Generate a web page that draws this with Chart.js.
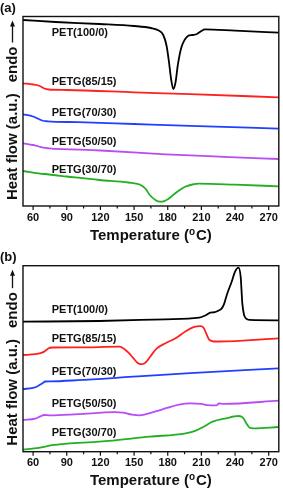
<!DOCTYPE html>
<html>
<head>
<meta charset="utf-8">
<script src="https://cdn.jsdelivr.net/npm/chart.js@4.4.0/dist/chart.umd.min.js"></script>
<style>
  html, body { margin: 0; padding: 0; background: #fff; }
  canvas { display: block; }
</style>
</head>
<body>
<canvas id="chartA" width="283" height="245"></canvas>
<canvas id="chartB" width="283" height="245"></canvas>
<script>
// axis ticks (temperature, °C)
const tempTicks = [60, 90, 120, 150, 180, 210, 240, 270];
const tempMinor = [75, 105, 135, 165, 195, 225, 255];
const sampleNames = ["PET(100/0)", "PETG(85/15)", "PETG(70/30)", "PETG(50/50)", "PETG(30/70)"];
const lineColors = ["#000000", "#ff2020", "#2040ff", "#b94cf5", "#22b022"];

// (a) curves - temperature / heat flow (a.u.)
const aPetT = [51, 80, 119, 150, 165, 172, 176, 179, 181, 183, 185, 187, 189, 192, 195, 198, 202, 206, 210, 213, 240, 279];
const aPetY = [186, 184, 182, 180, 178, 175.5, 171, 160, 145, 127, 117, 124, 141, 158, 166, 170, 171, 172, 175, 176.7, 175.3, 173.3];
const a85T = [51, 60, 66, 70, 74, 90, 150, 200, 279];
const a85Y = [122.7, 121.5, 120, 117.5, 116.5, 116, 113.7, 111.8, 108.7];
const a70T = [51, 60, 64, 68, 73, 100, 150, 200, 279];
const a70Y = [91.7, 89.5, 87.5, 85.5, 84.7, 83.8, 82, 80.2, 77.3];
const a50T = [51, 60, 65, 69, 74, 120, 178, 230, 279];
const a50Y = [62.7, 61, 59.5, 58.3, 57.7, 55.5, 51.7, 49.2, 47];
const a30T = [51, 70, 90, 119, 145, 155, 160, 164, 169, 173, 176, 181, 187, 192, 196, 202, 208, 240, 279];
const a30Y = [35, 32, 29.5, 26, 23.5, 21.5, 17.5, 11, 6, 4.3, 4.5, 7.5, 13, 17, 19.5, 21.5, 22.3, 21.3, 19.7];
const aLabelY = [173, 124, 93, 64, 36];

// (b) curves
const bPetT = [51, 119, 178, 208, 214, 218, 222, 225, 228, 230, 233, 237, 240, 243, 245, 246.5, 248, 250, 253, 279];
const bPetY = [130, 130.7, 132.4, 134, 136.5, 139, 139.5, 141, 143, 147, 158, 170, 180, 184, 175, 148, 137, 133, 131.8, 131.4];
const b85T = [51, 62, 68, 71, 74, 77, 100, 137, 141, 145, 149, 153, 156, 158, 161, 165, 170, 178, 187, 196, 203, 209, 212, 214, 217, 221, 226, 279];
const b85Y = [96.7, 97.5, 99, 101, 103.5, 104.2, 104.3, 105, 103, 99, 94, 89, 87.5, 87.7, 90, 96, 103, 108.5, 113.5, 120.5, 124.5, 125.5, 124, 119, 112, 110.2, 110.2, 113.4];
const b70T = [51, 60, 64, 68, 71, 75, 100, 149, 200, 279];
const b70Y = [62.7, 63.8, 65.5, 68.3, 70.2, 70.3, 71.5, 75, 78.5, 83.4];
const b50T = [51, 62, 66, 70, 75, 100, 133, 140, 148, 155, 160, 170, 180, 190, 200, 210, 216, 222, 224, 225.5, 230, 279];
const b50Y = [31.7, 33, 35, 36.7, 36.3, 37.5, 39.5, 39, 37, 36.3, 37.3, 40.5, 44, 47, 48.3, 47.8, 46.5, 46.3, 46.5, 48.2, 47.8, 51];
const b30T = [51, 65, 77, 90, 119, 164, 196, 205, 212, 220, 232, 243, 247, 250, 253, 256, 279];
const b30Y = [2, 3.8, 6.5, 8, 10, 15, 18.4, 21, 25, 30, 33.4, 35.7, 34, 28.5, 24, 23.4, 24.7];
const bLabelY = [141.7, 112.7, 80, 47.4, 19];

const labelT = 76.6;
const FONT = '"Liberation Sans", Arial, sans-serif';

function toPoints(xs, ys) {
  return xs.map((t, i) => ({ x: t, y: ys[i] }));
}

const decor = {
  id: "decor",
  afterDatasetsDraw(chart, args, opts) {
    const { ctx, chartArea: ca, scales: { x, y } } = chart;
    ctx.save();
    ctx.strokeStyle = "#111";
    ctx.fillStyle = "#111";

    // frame
    ctx.lineWidth = 1.4;
    ctx.strokeRect(ca.left, ca.top, ca.right - ca.left, ca.bottom - ca.top);

    // outward tick marks
    ctx.lineWidth = 1.2;
    ctx.beginPath();
    tempTicks.forEach(t => {
      const px = x.getPixelForValue(t);
      ctx.moveTo(px, ca.bottom); ctx.lineTo(px, ca.bottom + 4);
    });
    tempMinor.forEach(t => {
      const px = x.getPixelForValue(t);
      ctx.moveTo(px, ca.bottom); ctx.lineTo(px, ca.bottom + 2.5);
    });
    ctx.stroke();

    // sample labels
    ctx.font = "bold 11px " + FONT;
    ctx.textAlign = "left";
    ctx.textBaseline = "middle";
    opts.labelY.forEach((v, i) => {
      ctx.fillText(sampleNames[i], x.getPixelForValue(labelT), y.getPixelForValue(v));
    });

    // panel tag
    ctx.font = "bold 13px " + FONT;
    ctx.fillText(opts.tag, 0, opts.tagY);

    // x title with superscript o
    const big = "bold 15px " + FONT, small = "bold 10px " + FONT;
    ctx.font = big;
    const w1 = ctx.measureText("Temperature (").width;
    const w3 = ctx.measureText("C)").width;
    ctx.font = small;
    const w2 = ctx.measureText("o").width + 1;
    let sx = (ca.left + ca.right) / 2 - (w1 + w2 + w3) / 2;
    const ty = opts.titleY;
    ctx.textBaseline = "alphabetic";
    ctx.font = big;
    ctx.fillText("Temperature (", sx, ty);
    ctx.font = small;
    ctx.fillText("o", sx + w1, ty - 5);
    ctx.font = big;
    ctx.fillText("C)", sx + w1 + w2, ty);

    // y title: Heat flow (a.u.)  endo --->
    ctx.translate(12.5, ca.bottom - 6);
    ctx.rotate(-Math.PI / 2);
    ctx.font = big;
    ctx.textBaseline = "middle";
    ctx.fillText("Heat flow (a.u.)", 0, 0);
    let p = ctx.measureText("Heat flow (a.u.)").width + 11;
    ctx.fillText("endo", p, 0);
    p += ctx.measureText("endo").width + 4;
    const tip = ca.bottom - 6 - (ca.top + 4);
    ctx.lineWidth = 1.3;
    ctx.beginPath();
    ctx.moveTo(p, 0); ctx.lineTo(tip - 4, 0);
    ctx.stroke();
    ctx.beginPath();
    ctx.moveTo(tip, 0); ctx.lineTo(tip - 6, -2.5); ctx.lineTo(tip - 6, 2.5);
    ctx.closePath(); ctx.fill();
    ctx.restore();
  }
};

function makeChart(id, series, yMax, padTop, axisH, plugOpts) {
  const ctx = document.getElementById(id).getContext("2d");
  return new Chart(ctx, {
    type: "line",
    data: {
      datasets: series.map((s, i) => ({
        label: sampleNames[i],
        data: toPoints(s[0], s[1]),
        borderColor: lineColors[i],
        backgroundColor: lineColors[i],
        borderWidth: 1.8,
        pointRadius: 0,
        fill: false,
        cubicInterpolationMode: "monotone"
      }))
    },
    options: {
      responsive: false,
      animation: false,
      events: [],
      layout: { padding: { left: 23, right: 3, top: padTop, bottom: 0 } },
      plugins: {
        legend: { display: false },
        tooltip: { enabled: false },
        decor: plugOpts
      },
      scales: {
        x: {
          type: "linear",
          min: 51,
          max: 279,
          afterBuildTicks: sc => { sc.ticks = tempTicks.map(v => ({ value: v })); },
          afterFit: sc => { sc.height = axisH; },
          grid: { display: false, drawTicks: false },
          border: { display: false },
          ticks: {
            color: "#111",
            padding: 5,
            maxRotation: 0,
            font: { family: FONT, size: 11, weight: "bold" }
          }
        },
        y: { display: false, min: 0, max: yMax }
      }
    },
    plugins: [decor]
  });
}

makeChart("chartA",
  [[aPetT, aPetY], [a85T, a85Y], [a70T, a70Y], [a50T, a50Y], [a30T, a30Y]],
  189.5, 16.5, 39,
  { tag: "(a)", tagY: 8, labelY: aLabelY, titleY: 240 });

makeChart("chartB",
  [[bPetT, bPetY], [b85T, b85Y], [b70T, b70Y], [b50T, b50Y], [b30T, b30Y]],
  186, 20.7, 38.3,
  { tag: "(b)", tagY: 12.5, labelY: bLabelY, titleY: 240 });
</script>
</body>
</html>
